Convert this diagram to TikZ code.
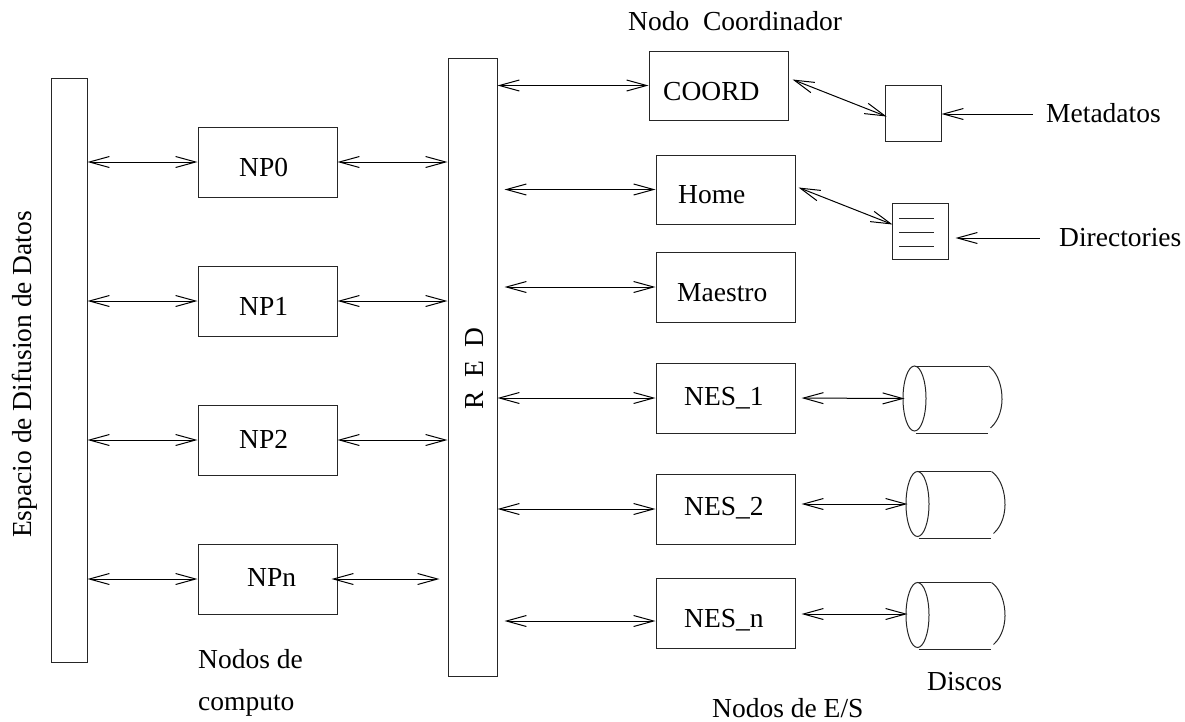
\documentclass[tikz,border=0pt]{standalone}
\usepackage{fontspec}
\setmainfont{Liberation Serif}
\usetikzlibrary{arrows.meta,shapes.geometric}
\tikzset{
  lw/.style={line width=1pt,draw=black!85},
  box/.style={lw,rectangle,inner sep=0pt,minimum width=#1},
  box/.default=139pt,
  txt/.style={font=\fontsize{27.5}{30}\selectfont,inner sep=0pt,anchor=base west},
  arr/.style={line width=1pt,{Straight Barb[length=20pt,width=11pt,line width=1pt]}-{Straight Barb[length=20pt,width=11pt,line width=1pt]}},
  one/.style={line width=1pt,{Straight Barb[length=20pt,width=11pt,line width=1pt]}-},
  dsk/.style={lw,ellipse,inner sep=0pt,minimum width=23pt,minimum height=65pt}
}
\begin{document}
\begin{tikzpicture}[x=1pt,y=-1pt]
\useasboundingbox (0,0) rectangle (1185,721);
% bars
\node[box=36pt,minimum height=584pt] (bar) at (69,370) {};
\node[box=49pt,minimum height=618pt] (red) at (472.5,367) {};
\node[txt,rotate=90] (bart) at (31,538) {Espacio de Difusion de Datos};
\node[txt,rotate=90] (redt) at (483,410) {R\ \ E\ \ D};
% compute nodes
\node[box,minimum height=70pt] (np0) at (267.5,162) {};
\node[box,minimum height=70pt] (np1) at (267.5,301) {};
\node[box,minimum height=70pt] (np2) at (267.5,440) {};
\node[box,minimum height=70pt] (npn) at (267.5,579) {};
\node[txt] (np0t) at (239,176) {NP0};
\node[txt] (np1t) at (239,315) {NP1};
\node[txt] (np2t) at (239,448) {NP2};
\node[txt] (npnt) at (247,586) {NPn};
% right nodes
\node[box,minimum height=69pt] (coord) at (718.5,85.5) {};
\node[box,minimum height=69pt] (home) at (725.5,189.5) {};
\node[box,minimum height=70pt] (maes) at (725.5,287) {};
\node[box,minimum height=70pt] (nes1) at (725.5,398) {};
\node[box,minimum height=70pt] (nes2) at (725.5,509) {};
\node[box,minimum height=70pt] (nesn) at (725.5,613) {};
\node[txt] (coordt) at (663,100) {COORD};
\node[txt] (homet) at (678,203) {Home};
\node[txt] (maest) at (677,301) {Maestro};
\node[txt] (nes1t) at (684,405) {NES\_1};
\node[txt] (nes2t) at (684,515) {NES\_2};
\node[txt] (nesnt) at (684,627) {NES\_n};
% small boxes
\node[box=56pt,minimum height=55.5pt] (meta) at (913,113.5) {};
\node[box=56pt,minimum height=55.5pt] (dir) at (920,231.5) {};
\draw[lw] (899,218) -- (934,218) (899,232) -- (934,232) (899,246) -- (934,246);
% free ends
\coordinate (metaend) at (1033,114);
\coordinate (dirend) at (1040,238);
% disks
\node[dsk] (d1) at (914.5,398.5) {};
\node[dsk] (d2) at (917.5,504) {};
\node[dsk] (d3) at (917.5,615) {};
\foreach \d in {d1,d2,d3}{
  \begin{scope}[shift={(\d.center)}]
    \draw[lw] (0,-32.5) -- (73,-32.5);
    \draw[lw] (1,34.5) -- (73,34.5);
    \draw[lw] (74,-32.5) .. controls (89,-22.5) and (94,13.5) .. (76,29.5);
  \end{scope}
}
% left arrows
\foreach \n in {np0,np1,np2,npn}
  \draw[arr] (bar.east |- \n.west) -- (\n.west);
\foreach \n in {np0,np1,np2}
  \draw[arr] (\n.east) -- (red.west |- \n.east);
\draw[arr,shorten <=-6pt,shorten >=8pt] (npn.east) -- (red.west |- npn.east);
% RED to right
\draw[arr] (red.east |- coord.west) -- (coord.west);
\draw[arr,shorten <=7pt] (red.east |- home.west) -- (home.west);
\draw[arr,shorten <=7pt] (red.east |- maes.west) -- (maes.west);
\draw[arr] (red.east |- nes1.west) -- (nes1.west);
\draw[arr] (red.east |- nes2.west) -- (nes2.west);
\draw[arr,shorten <=7pt] ([yshift=-8pt]red.east |- nesn.west) -- ([yshift=-8pt]nesn.west);
% to small boxes
\draw[arr] ([xshift=4pt,yshift=6pt]coord.east) -- ([xshift=2pt,yshift=-3pt]meta.west);
\draw[arr] ([xshift=3pt,yshift=2pt]home.east) -- ([xshift=1pt,yshift=7pt]dir.west);
\draw[one] (meta.east |- metaend) -- (metaend);
\draw[one,shorten <=7pt] (dir.east |- dirend) -- (dirend);
% to disks
\draw[arr,shorten <=6pt,shorten >=-2pt] (nes1.east) -- (d1.west);
\draw[arr,shorten <=6pt,shorten >=-2pt] (nes2.east |- d2.west) -- (d2.west);
\draw[arr,shorten <=6pt,shorten >=-2pt] ([yshift=1pt]nesn.east |- d3.west) -- ([yshift=1pt]d3.west);
% captions
\node[txt] (c1) at (628,30) {Nodo\ \ Coordinador};
\node[txt] (c2) at (1046,122) {Metadatos};
\node[txt] (c3) at (1059,246) {Directories};
\node[txt] (c4) at (198,668) {Nodos de};
\node[txt] (c5) at (198,710) {computo};
\node[txt] (c6) at (712,717) {Nodos de E/S};
\node[txt] (c7) at (927,690) {Discos};
\end{tikzpicture}
\end{document}
